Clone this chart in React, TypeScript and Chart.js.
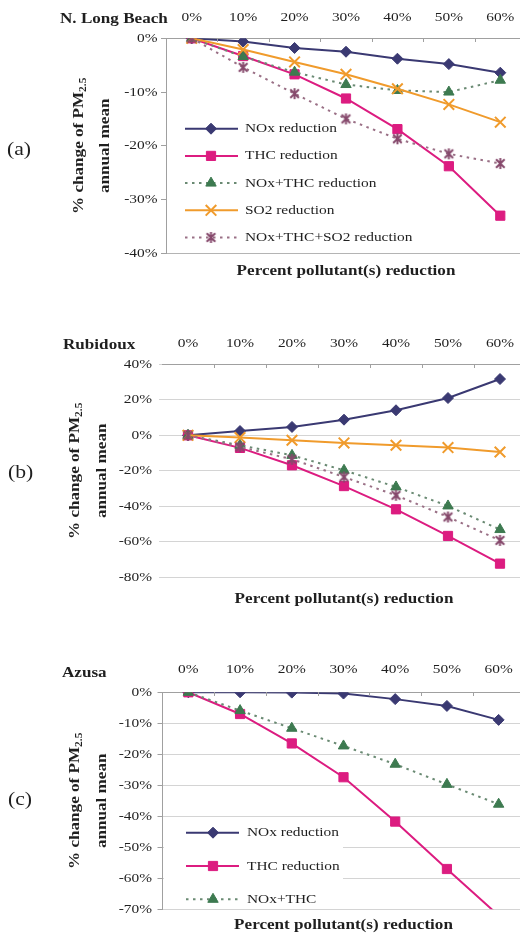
import React, { useEffect, useRef } from 'react';
import { Chart, registerables } from 'chart.js';

Chart.register(...registerables);

// Horizontal axis: share of each precursor that is removed
const reductionLevels = ['0%', '10%', '20%', '30%', '40%', '50%', '60%'];

// N. Long Beach – % change of annual-mean PM2.5
const longBeachNOx = [0, -0.6, -1.8, -2.5, -3.8, -4.8, -6.4];
const longBeachTHC = [0, -3.3, -6.7, -11.2, -16.9, -23.8, -33.0];
const longBeachNOxTHC = [0, -3.4, -6.3, -8.6, -9.7, -10.0, -7.8];
const longBeachSO2 = [0, -2.1, -4.4, -6.7, -9.4, -12.3, -15.6];
const longBeachAll = [0, -5.4, -10.3, -15.0, -18.7, -21.5, -23.3];

// Rubidoux
const rubidouxNOx = [0, 2.4, 4.7, 8.8, 14.1, 21.0, 31.7];
const rubidouxTHC = [0, -7.1, -16.9, -28.6, -41.7, -56.7, -72.3];
const rubidouxNOxTHC = [0, -5.6, -11.3, -19.7, -29.1, -39.8, -53.1];
const rubidouxSO2 = [0, -1.3, -2.8, -4.3, -5.6, -6.9, -9.4];
const rubidouxAll = [0, -6.5, -13.5, -23.5, -33.8, -46.0, -59.2];

// Azusa
const azusaNOx = [0, 0, -0.1, -0.4, -2.2, -4.4, -8.9];
const azusaTHC = [0, -7.0, -16.5, -27.4, -41.7, -57.0, -72.0];
const azusaNOxTHC = [0, -5.9, -11.6, -17.3, -23.2, -29.7, -36.1];

// Vertical axis ranges: [min, max, step] in percent
const longBeachRange = [-40, 0, 10];
const rubidouxRange = [-80, 40, 20];
const azusaRange = [-70, 0, 10];

// Legend / series names
const nameNOx = 'NOx reduction';
const nameTHC = 'THC reduction';
const nameNOxTHC = 'NOx+THC reduction';
const nameSO2 = 'SO2 reduction';
const nameAll = 'NOx+THC+SO2 reduction';
const nameNOxTHCShort = 'NOx+THC';

const yTitleMain = '% change of PM';
const yTitleSub = '2.5';
const yTitleSecond = 'annual mean';
const xTitle = 'Percent pollutant(s) reduction';

// ---------------------------------------------------------------- styling
const SERIF = '"Liberation Serif", "Times New Roman", serif';
const STRETCH = 1.14;
const INK = '#1f1f1f';
const AXIS = '#a0a0a0';
const GRID = '#d4d4d4';
const CANVAS_W = 540;

const FONT_TICK = `13.5px ${SERIF}`;
const FONT_BOLD = `bold 15px ${SERIF}`;
const FONT_SUB = `bold 10px ${SERIF}`;
const FONT_TAG = `19px ${SERIF}`;

type Kind = 'nox' | 'thc' | 'noxthc' | 'so2' | 'all';
type Shape = 'rectRot' | 'rect' | 'triangle' | 'crossRot' | 'star';

const SERIES_STYLE: Record<Kind, { line: string; mark: string; shape: Shape; r: number; dash: number[] }> = {
  nox: { line: '#3a3972', mark: '#3a3972', shape: 'rectRot', r: 5.5, dash: [] },
  thc: { line: '#dc1c80', mark: '#dc1c80', shape: 'rect', r: 6.5, dash: [] },
  noxthc: { line: '#6a8a73', mark: '#3d7a50', shape: 'triangle', r: 6, dash: [2.5, 4.5] },
  so2: { line: '#f09b2c', mark: '#f09b2c', shape: 'crossRot', r: 7.5, dash: [] },
  all: { line: '#9a7086', mark: '#86496c', shape: 'star', r: 5.5, dash: [2.5, 4.5] },
};

interface Series { kind: Kind; label: string; values: number[] }
interface LegendSpec { y0: number; dy: number; x0: number; x1: number; mark: number; text: number; box: number[] | null }
interface PanelSpec {
  tag: string;
  title: string;
  top: number;
  height: number;
  area: { left: number; right: number; top: number; bottom: number };
  range: number[];
  series: Series[];
  legend: LegendSpec | null;
  legendItems: number;
  gridAll: boolean;
  yBorder: boolean;
  tickLen: number;
  xLabelBase: number;
  yLabelRight: number;
  titlePos: number[];
  tagPos: number[];
  yTitleBase: number[];
  xTitleBase: number;
}

const PANELS: PanelSpec[] = [
  {
    tag: '(a)',
    title: 'N. Long Beach',
    top: 0,
    height: 300,
    area: { left: 166, right: 526, top: 38.3, bottom: 253.3 },
    range: longBeachRange,
    series: [
      { kind: 'nox', label: nameNOx, values: longBeachNOx },
      { kind: 'thc', label: nameTHC, values: longBeachTHC },
      { kind: 'noxthc', label: nameNOxTHC, values: longBeachNOxTHC },
      { kind: 'so2', label: nameSO2, values: longBeachSO2 },
      { kind: 'all', label: nameAll, values: longBeachAll },
    ],
    legend: { y0: 128.7, dy: 27.2, x0: 185, x1: 238, mark: 211, text: 245, box: null },
    legendItems: 5,
    gridAll: false,
    yBorder: true,
    tickLen: 5,
    xLabelBase: 20.7,
    yLabelRight: 157.5,
    titlePos: [60, 22.5],
    tagPos: [7, 155],
    yTitleBase: [83, 109],
    xTitleBase: 275,
  },
  {
    tag: '(b)',
    title: 'Rubidoux',
    top: 300,
    height: 330,
    area: { left: 162, right: 526, top: 64.3, bottom: 277.3 },
    range: rubidouxRange,
    series: [
      { kind: 'nox', label: nameNOx, values: rubidouxNOx },
      { kind: 'thc', label: nameTHC, values: rubidouxTHC },
      { kind: 'noxthc', label: nameNOxTHC, values: rubidouxNOxTHC },
      { kind: 'so2', label: nameSO2, values: rubidouxSO2 },
      { kind: 'all', label: nameAll, values: rubidouxAll },
    ],
    legend: null,
    legendItems: 0,
    gridAll: true,
    yBorder: false,
    tickLen: 3,
    xLabelBase: 46.7,
    yLabelRight: 152,
    titlePos: [63, 49],
    tagPos: [8, 178],
    yTitleBase: [78.5, 105.5],
    xTitleBase: 303,
  },
  {
    tag: '(c)',
    title: 'Azusa',
    top: 630,
    height: 303,
    area: { left: 162.5, right: 524.5, top: 62.3, bottom: 279.3 },
    range: azusaRange,
    series: [
      { kind: 'nox', label: nameNOx, values: azusaNOx },
      { kind: 'thc', label: nameTHC, values: azusaTHC },
      { kind: 'noxthc', label: nameNOxTHCShort, values: azusaNOxTHC },
    ],
    legend: { y0: 202.7, dy: 33.3, x0: 186, x1: 239, mark: 213, text: 247, box: [164, 190, 179, 87] },
    legendItems: 3,
    gridAll: true,
    yBorder: true,
    tickLen: 5,
    xLabelBase: 42.7,
    yLabelRight: 152,
    titlePos: [62, 46.5],
    tagPos: [8, 175],
    yTitleBase: [78.5, 105.5],
    xTitleBase: 299,
  },
];

// Six-armed "asterisk" marker used for the three-pollutant series
function makeStar(color: string, r: number): HTMLCanvasElement {
  const size = Math.ceil(r * 2 + 4);
  const c = document.createElement('canvas');
  c.width = size;
  c.height = size;
  const g = c.getContext('2d')!;
  const m = size / 2;
  const d = r * 0.78;
  g.strokeStyle = color;
  g.lineWidth = 2;
  g.beginPath();
  g.moveTo(m - d, m - d);
  g.lineTo(m + d, m + d);
  g.moveTo(m + d, m - d);
  g.lineTo(m - d, m + d);
  g.moveTo(m, m - r);
  g.lineTo(m, m + r);
  g.stroke();
  return c;
}

function drawText(
  ctx: CanvasRenderingContext2D,
  text: string,
  x: number,
  y: number,
  font: string,
  align: CanvasTextAlign,
  baseline: CanvasTextBaseline,
) {
  ctx.save();
  ctx.translate(x, y);
  ctx.scale(STRETCH, 1);
  ctx.font = font;
  ctx.textAlign = align;
  ctx.textBaseline = baseline;
  ctx.fillStyle = INK;
  ctx.fillText(text, 0, 0);
  ctx.restore();
}

function drawMarker(ctx: CanvasRenderingContext2D, kind: Kind, x: number, y: number, star: HTMLCanvasElement) {
  const s = SERIES_STYLE[kind];
  const r = s.r;
  ctx.save();
  ctx.setLineDash([]);
  ctx.fillStyle = s.mark;
  ctx.strokeStyle = s.mark;
  ctx.lineWidth = 1;
  ctx.beginPath();
  if (s.shape === 'rectRot') {
    ctx.moveTo(x, y - r);
    ctx.lineTo(x + r, y);
    ctx.lineTo(x, y + r);
    ctx.lineTo(x - r, y);
    ctx.closePath();
    ctx.fill();
    ctx.stroke();
  } else if (s.shape === 'rect') {
    const h = r * Math.SQRT1_2;
    ctx.rect(x - h, y - h, 2 * h, 2 * h);
    ctx.fill();
    ctx.stroke();
  } else if (s.shape === 'triangle') {
    const c = Math.cos(Math.PI / 6) * r;
    ctx.moveTo(x, y - r);
    ctx.lineTo(x + c, y + r / 2);
    ctx.lineTo(x - c, y + r / 2);
    ctx.closePath();
    ctx.fill();
    ctx.stroke();
  } else if (s.shape === 'crossRot') {
    const h = r * Math.SQRT1_2;
    ctx.lineWidth = 2;
    ctx.moveTo(x - h, y - h);
    ctx.lineTo(x + h, y + h);
    ctx.moveTo(x + h, y - h);
    ctx.lineTo(x - h, y + h);
    ctx.stroke();
  } else {
    ctx.drawImage(star, x - star.width / 2, y - star.height / 2);
  }
  ctx.restore();
}

function panelDecor(spec: PanelSpec, star: HTMLCanvasElement) {
  return {
    id: 'panelDecor',
    beforeDatasetsDraw(chart: Chart) {
      const box = spec.legend && spec.legend.box;
      if (!box) return;
      const ctx = chart.ctx;
      ctx.save();
      ctx.fillStyle = '#ffffff';
      ctx.fillRect(box[0], box[1], box[2], box[3]);
      ctx.restore();
    },
    afterDraw(chart: Chart) {
      const ctx = chart.ctx;
      const a = chart.chartArea;
      const xs = chart.scales.x;
      const ys = chart.scales.y;

      // small inward tick marks between categories on the top axis
      ctx.save();
      ctx.strokeStyle = AXIS;
      ctx.lineWidth = 1;
      for (let i = 1; i < reductionLevels.length; i++) {
        const px = Math.round((xs.getPixelForValue(i - 1) + xs.getPixelForValue(i)) / 2) + 0.5;
        ctx.beginPath();
        ctx.moveTo(px, Math.round(a.top));
        ctx.lineTo(px, Math.round(a.top) + 4);
        ctx.stroke();
      }
      ctx.restore();

      // category labels above the plot
      reductionLevels.forEach((lab, i) => {
        drawText(ctx, lab, xs.getPixelForValue(i), spec.xLabelBase, FONT_TICK, 'center', 'alphabetic');
      });

      // value labels on the left
      ys.ticks.forEach((t) => {
        drawText(ctx, `${t.value}%`, spec.yLabelRight, ys.getPixelForValue(t.value), FONT_TICK, 'right', 'middle');
      });

      // site name and panel letter
      drawText(ctx, spec.title, spec.titlePos[0], spec.titlePos[1], FONT_BOLD, 'left', 'alphabetic');
      drawText(ctx, spec.tag, spec.tagPos[0], spec.tagPos[1], FONT_TAG, 'left', 'alphabetic');

      // horizontal axis title
      drawText(ctx, xTitle, (a.left + a.right) / 2, spec.xTitleBase, FONT_BOLD, 'center', 'alphabetic');

      // rotated vertical axis title (two lines, PM2.5 with subscript)
      const cy = (a.top + a.bottom) / 2;
      ctx.save();
      ctx.fillStyle = INK;
      ctx.textBaseline = 'alphabetic';
      ctx.textAlign = 'left';
      ctx.font = FONT_BOLD;
      const w1 = ctx.measureText(yTitleMain).width;
      ctx.font = FONT_SUB;
      const w2 = ctx.measureText(yTitleSub).width;
      ctx.translate(spec.yTitleBase[0], cy);
      ctx.rotate(-Math.PI / 2);
      ctx.scale(STRETCH, 1);
      const start = -(w1 + w2) / 2;
      ctx.font = FONT_BOLD;
      ctx.fillText(yTitleMain, start, 0);
      ctx.font = FONT_SUB;
      ctx.fillText(yTitleSub, start + w1, 3);
      ctx.restore();
      ctx.save();
      ctx.fillStyle = INK;
      ctx.translate(spec.yTitleBase[1], cy);
      ctx.rotate(-Math.PI / 2);
      ctx.scale(STRETCH, 1);
      ctx.font = FONT_BOLD;
      ctx.textAlign = 'center';
      ctx.textBaseline = 'alphabetic';
      ctx.fillText(yTitleSecond, 0, 0);
      ctx.restore();

      // legend inside the plot
      const lg = spec.legend;
      if (lg) {
        spec.series.slice(0, spec.legendItems).forEach((s, i) => {
          const st = SERIES_STYLE[s.kind];
          const y = lg.y0 + i * lg.dy;
          ctx.save();
          ctx.strokeStyle = st.line;
          ctx.lineWidth = 2;
          ctx.setLineDash(st.dash);
          ctx.beginPath();
          ctx.moveTo(lg.x0, y);
          ctx.lineTo(lg.x1, y);
          ctx.stroke();
          ctx.restore();
          drawMarker(ctx, s.kind, lg.mark, y, star);
          drawText(ctx, s.label, lg.text, y, FONT_TICK, 'left', 'middle');
        });
      }
    },
  };
}

function Panel({ spec }: { spec: PanelSpec }) {
  const ref = useRef<HTMLCanvasElement | null>(null);

  useEffect(() => {
    const canvas = ref.current;
    if (!canvas) return;
    const star = makeStar(SERIES_STYLE.all.mark, SERIES_STYLE.all.r);
    const [yMin, yMax, yStep] = spec.range;
    const area = spec.area;

    const chart = new Chart(canvas, {
      type: 'line',
      data: {
        labels: reductionLevels,
        datasets: spec.series.map((s, i) => {
          const st = SERIES_STYLE[s.kind];
          return {
            label: s.label,
            data: s.values,
            order: -i,
            borderColor: st.line,
            borderWidth: 2,
            borderDash: st.dash,
            pointStyle: st.shape === 'star' ? star : st.shape,
            pointRadius: st.r,
            pointHoverRadius: st.r,
            pointBackgroundColor: st.mark,
            pointBorderColor: st.mark,
            pointBorderWidth: st.shape === 'crossRot' ? 2 : 1,
            fill: false,
            tension: 0,
          };
        }),
      },
      options: {
        animation: false,
        responsive: false,
        devicePixelRatio: 1,
        events: [],
        layout: {
          autoPadding: false,
          padding: { left: 0, top: 0, right: CANVAS_W - area.right, bottom: spec.height - area.bottom },
        },
        plugins: {
          legend: { display: false },
          tooltip: { enabled: false },
          title: { display: false },
        },
        scales: {
          x: {
            type: 'category',
            position: 'top',
            offset: true,
            ticks: { display: false },
            grid: { display: true, drawOnChartArea: false, drawTicks: false },
            border: { display: true, color: AXIS, width: 1 },
            afterFit: (s: any) => {
              s.height = area.top;
            },
          },
          y: {
            type: 'linear',
            min: yMin,
            max: yMax,
            ticks: { display: false, stepSize: yStep },
            grid: {
              display: true,
              drawOnChartArea: true,
              drawTicks: true,
              tickLength: spec.tickLen,
              lineWidth: 1,
              color: (c: any) =>
                spec.gridAll ? GRID : c.tick && c.tick.value === yMin ? '#b4b4b4' : 'rgba(0,0,0,0)',
              tickColor: spec.gridAll && !spec.yBorder ? GRID : AXIS,
            },
            border: { display: spec.yBorder, color: AXIS, width: 1 },
            afterFit: (s: any) => {
              s.width = area.left;
            },
          },
        },
      } as any,
      plugins: [panelDecor(spec, star) as any],
    });

    return () => chart.destroy();
  }, [spec]);

  return (
    <canvas
      ref={ref}
      width={CANVAS_W}
      height={spec.height}
      style={{ position: 'absolute', left: 0, top: spec.top, width: CANVAS_W, height: spec.height }}
    />
  );
}

export default function App() {
  return (
    <div
      style={{
        position: 'absolute',
        left: 0,
        top: 0,
        width: 520,
        height: 933,
        overflow: 'hidden',
        background: '#ffffff',
      }}
    >
      {PANELS.map((p) => (
        <Panel key={p.tag} spec={p} />
      ))}
    </div>
  );
}
